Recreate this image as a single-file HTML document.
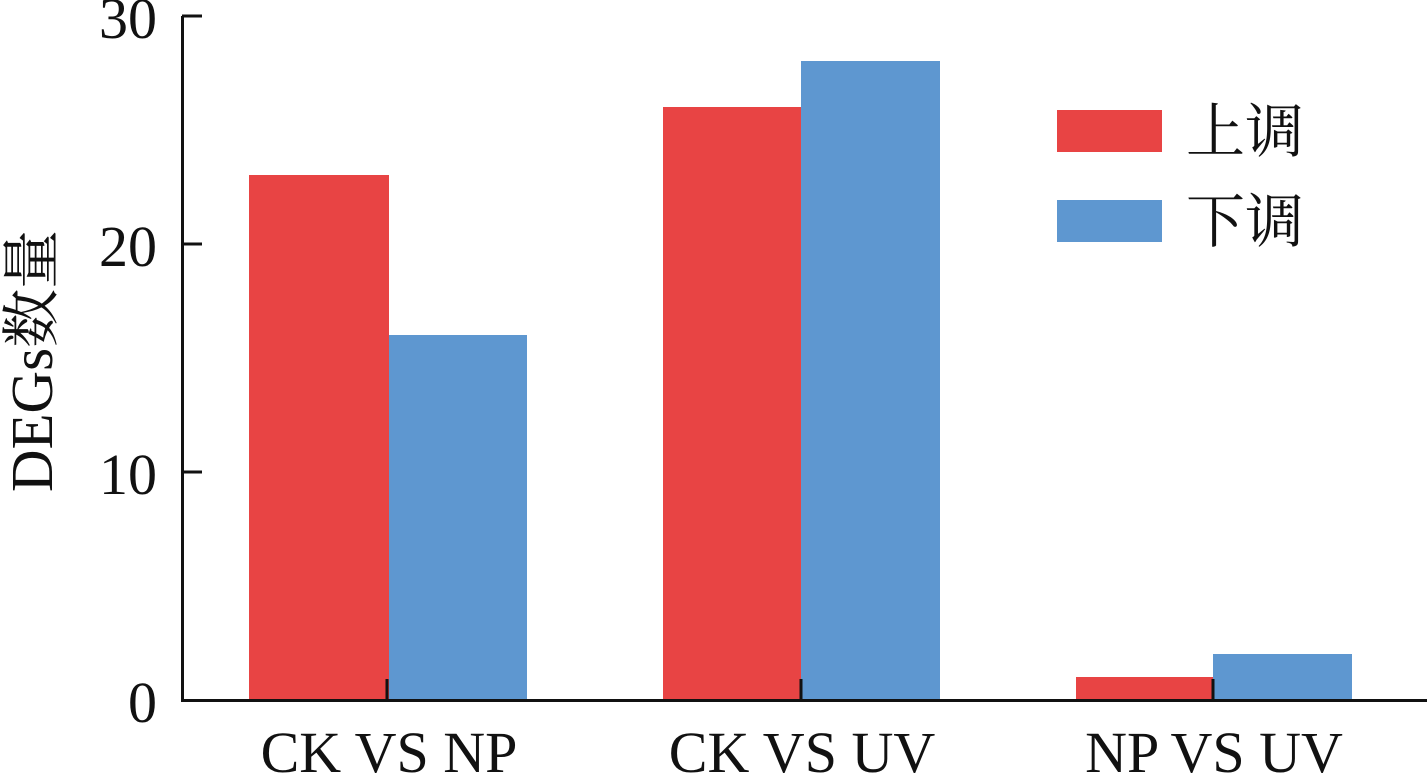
<!DOCTYPE html>
<html><head><meta charset="utf-8"><style>
html,body{margin:0;padding:0;background:#fff}
</style></head><body>
<svg width="1427" height="774" xmlns="http://www.w3.org/2000/svg" style="display:block">
<g fill="#e84444">
<rect x="249" y="175" width="140" height="525"/>
<rect x="663" y="107" width="138" height="593"/>
<rect x="1076" y="677" width="137" height="23"/>
<rect x="1057" y="110" width="105" height="42"/>
</g>
<g fill="#5e97d0">
<rect x="389" y="335" width="138" height="365"/>
<rect x="801" y="61" width="139" height="639"/>
<rect x="1213" y="654" width="139" height="46"/>
<rect x="1057" y="200" width="105" height="42"/>
</g>
<g stroke="#111" stroke-width="3" fill="none">
<path d="M182.5 16 V700.5 H1427"/>
<path d="M182 16 H202 M182 244 H202 M182 472 H202"/>
<path d="M387 700 V679 M801 700 V679 M1213 700 V679"/>
</g>
<g font-family="'Liberation Serif',serif" font-size="58" fill="#111" text-anchor="end">
<text x="157" y="38">30</text>
<text x="157" y="266">20</text>
<text x="157" y="494">10</text>
<text x="157" y="722">0</text>
</g>
<g font-family="'Liberation Serif',serif" font-size="58" fill="#111" text-anchor="middle">
<text x="389" y="772">CK VS NP</text>
<text x="802" y="772">CK VS UV</text>
<text x="1214" y="772">NP VS UV</text>
</g>
<text transform="translate(52,361) rotate(-90)" text-anchor="middle" font-family="'Liberation Serif','Noto Serif CJK SC',serif" font-size="59" fill="#111">DEGs数量</text>
<g font-family="'Liberation Serif','Noto Serif CJK SC',serif" font-size="59" fill="#111">
<text x="1186" y="152">上调</text>
<text x="1186" y="242">下调</text>
</g>
</svg>
</body></html>
